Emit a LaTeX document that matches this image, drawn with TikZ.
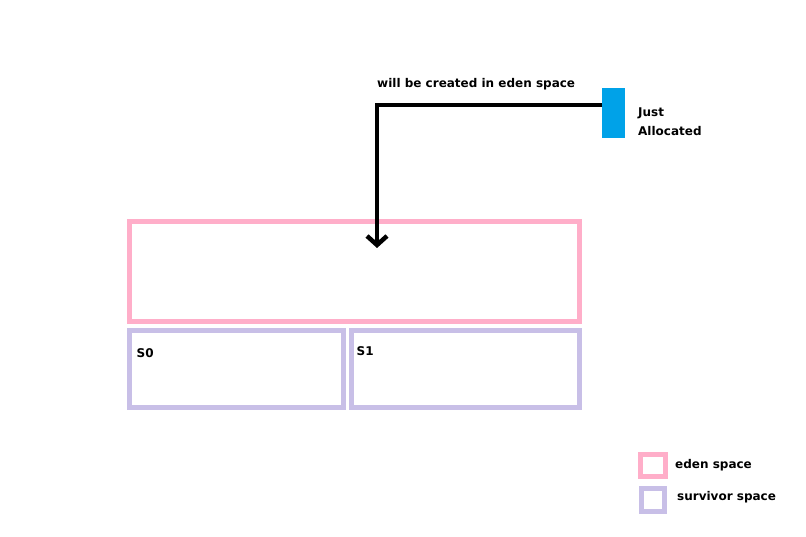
\documentclass[tikz,border=0pt]{standalone}
\usepackage{fontspec}
\setmainfont{DejaVu Sans}
\usetikzlibrary{arrows.meta}
\definecolor{edenpink}{HTML}{FFAEC9}
\definecolor{survlav}{HTML}{C8BFE7}
\definecolor{allocblue}{HTML}{00A2E8}
\begin{document}
\begin{tikzpicture}[x=1pt,y=-1pt,
  box/.style={draw, line width=5pt, inner sep=0pt, outer sep=0pt, anchor=north west},
  lbl/.style={font=\bfseries\fontsize{12}{14}\selectfont, inner sep=0pt, anchor=base west},
  flow/.style={line width=4.5pt, line join=miter, -{Straight Barb[length=9pt,width=20pt]}}]
\useasboundingbox (0,0) rectangle (806,537);
\fill[white] (0,0) rectangle (806,537);
% eden
\node[box, draw=edenpink, minimum width=449.5pt, minimum height=100pt] (eden) at (129.5,221.5) {};
% survivors
\node[box, draw=survlav, minimum width=214pt, minimum height=76.3pt] (s0) at (129.5,330.7) {};
\node[box, draw=survlav, minimum width=227.5pt, minimum height=76.3pt] (s1) at (351.5,330.7) {};
\node[lbl] (s0l) at (136.5,357.5) {S0};
\node[lbl] (s1l) at (356.5,355.5) {S1};
% just allocated
\node[fill=allocblue, inner sep=0pt, outer sep=0pt, minimum width=22.7pt, minimum height=50pt, anchor=north west] (blue) at (602.3,87.7) {};
\node[lbl, align=left, anchor=north west, font=\bfseries\fontsize{12}{19}\selectfont] (just) at (638,108) {Just\\Allocated};
\node[lbl] (will) at (377,88) {will be created in eden space};
\coordinate (start) at (602.3,104.8);
\coordinate (tip) at (377,248);
\draw[flow] (start) -| (tip);
% legend
\node[box, draw=edenpink, minimum width=24.4pt, minimum height=21.2pt] (leden) at (640.8,454.8) {};
\node[box, draw=survlav, minimum width=22.5pt, minimum height=23pt] (lsurv) at (641.5,488) {};
\node[lbl, anchor=west] (ledent) at (675,465.5) {eden space};
\node[lbl, anchor=west] (lsurvt) at (677,497.5) {survivor space};
\end{tikzpicture}
\end{document}
